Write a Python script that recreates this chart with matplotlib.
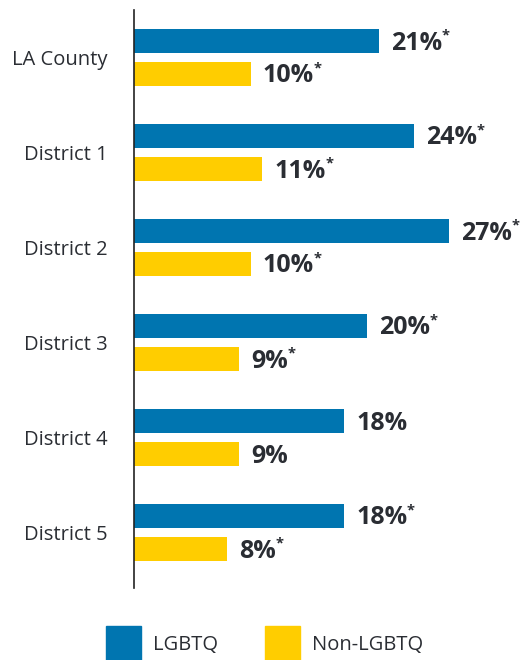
import matplotlib.pyplot as plt
from matplotlib.patches import Rectangle

plt.rcParams['font.family'] = ['Open Sans', 'DejaVu Sans']

# data
regions = ['LA County', 'District 1', 'District 2', 'District 3', 'District 4', 'District 5']
lgbtq = [21, 24, 27, 20, 18, 18]
non_lgbtq = [10, 11, 10, 9, 9, 8]
lgbtq_sig = [True, True, True, True, False, True]
non_sig = [True, True, True, True, False, True]

blue = '#0075b0'
yellow = '#ffcd00'
txt = '#2a2d33'

W, H = 522, 660
fig = plt.figure(figsize=(W / 100, H / 100), dpi=100)
# axes in pixel terms: left line at x=134, from y=10 to y=588
ax = fig.add_axes([134 / W, 1 - 588 / H, 385 / W, 578 / H])

ax.set_xlim(0, 33)
ax.set_ylim(5 + 55.5 / 95, -0.5)

off = 16.5 / 95
bh = 24 / 95
ys = list(range(len(regions)))
ax.barh([y - off for y in ys], lgbtq, height=bh, color=blue)
ax.barh([y + off for y in ys], non_lgbtq, height=bh, color=yellow)

for s in ['top', 'right', 'bottom']:
    ax.spines[s].set_visible(False)
ax.spines['left'].set_color('#222222')
ax.spines['left'].set_linewidth(1.2)
ax.set_xticks([])
ax.set_yticks(ys)
ax.set_yticklabels(regions, fontsize=14.5, color=txt)
ax.tick_params(axis='y', length=0, pad=19)

labels = []
for y, v, sig in zip(ys, lgbtq, lgbtq_sig):
    t = ax.annotate(f'{v}%', (v, y - off), xytext=(12, -2), textcoords='offset pixels',
                    ha='left', va='center', fontsize=18, fontweight='bold', color=txt)
    labels.append((t, sig))
for y, v, sig in zip(ys, non_lgbtq, non_sig):
    t = ax.annotate(f'{v}%', (v, y + off), xytext=(12, -2), textcoords='offset pixels',
                    ha='left', va='center', fontsize=18, fontweight='bold', color=txt)
    labels.append((t, sig))

fig.canvas.draw()
r = fig.canvas.get_renderer()
for t, sig in labels:
    if not sig:
        continue
    bb = t.get_window_extent(r)
    fig.text((bb.x1 - 0.5) / W, (bb.y1 + 2) / H, '*', ha='left', va='top',
             fontsize=10.5, fontweight='bold', color=txt)

# legend
fig.patches.append(Rectangle((106 / W, 0), 35 / W, 34 / H, transform=fig.transFigure,
                             color=blue))
fig.text(153 / W, 1 - 645 / H, 'LGBTQ', ha='left', va='center', fontsize=14.5, color=txt)
fig.patches.append(Rectangle((265 / W, 0), 35 / W, 34 / H, transform=fig.transFigure,
                             color=yellow))
fig.text(312 / W, 1 - 645 / H, 'Non-LGBTQ', ha='left', va='center', fontsize=14.5, color=txt)

fig.savefig('out.png', dpi=100)
